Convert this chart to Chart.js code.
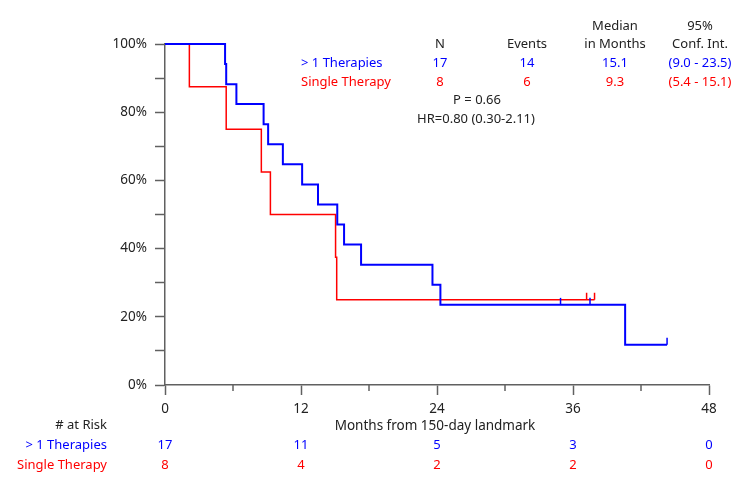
<!DOCTYPE html>
<html>
<head>
<meta charset="utf-8">
<script src="https://cdn.jsdelivr.net/npm/chart.js@4.4.1/dist/chart.umd.min.js"></script>
<style>
html, body { margin: 0; padding: 0; background: #fff; }
</style>
</head>
<body>
<canvas id="km" width="750" height="498"></canvas>
<script>
// survival curves (months, % surviving)
const multiTimes = [0, 5.3, 5.4, 6.3, 8.7, 9.1, 10.4, 12.1, 13.5, 15.2, 15.8, 17.3, 23.6, 24.3, 40.6, 44.3];
const multiSurv = [100, 94.1, 88.2, 82.4, 76.5, 70.6, 64.7, 58.8, 52.9, 47.1, 41.2, 35.3, 29.4, 23.5, 11.8, 11.8];
const multiCensorTimes = [34.9, 37.5, 44.3];
const multiCensorSurv = [23.5, 23.5, 11.8];

const singleTimes = [0, 2.15, 5.4, 8.5, 9.3, 15.05, 15.15, 37.9];
const singleSurv = [100, 87.5, 75, 62.5, 50, 37.5, 25, 25];
const singleCensorTimes = [37.2, 37.9];
const singleCensorSurv = [25, 25];

// numbers at risk
const riskMonths = [0, 12, 24, 36, 48];
const multiRisk = [17, 11, 5, 3, 0];
const singleRisk = [8, 4, 2, 2, 0];

// summary table
const groupNames = ['> 1 Therapies', 'Single Therapy'];
const groupN = [17, 8];
const groupEvents = [14, 6];
const groupMedian = ['15.1', '9.3'];
const groupCI = ['(9.0 - 23.5)', '(5.4 - 15.1)'];
const pText = 'P = 0.66';
const hrText = 'HR=0.80 (0.30-2.11)';

const BLUE = '#0000ff';
const RED = '#ff0000';
const AXIS = '#606060';
const TXT = '#222222';
const FONT = '"Noto Sans", sans-serif';

const toPoints = (xs, ys) => xs.map((t, i) => ({ x: t, y: ys[i] }));

const annotate = {
    id: 'annotate',
    afterDatasetsDraw(chart) {
        const { ctx, scales: { x, y } } = chart;
        ctx.save();
        // censor marks
        const marks = [
            [multiCensorTimes, multiCensorSurv, BLUE],
            [singleCensorTimes, singleCensorSurv, RED]
        ];
        marks.forEach(([ts, ss, col]) => {
            ctx.strokeStyle = col;
            ctx.lineWidth = 1.5;
            ts.forEach((t, i) => {
                const px = x.getPixelForValue(t);
                const py = y.getPixelForValue(ss[i]);
                ctx.beginPath();
                ctx.moveTo(px, py);
                ctx.lineTo(px, py - 7);
                ctx.stroke();
            });
        });
        // minor x ticks
        ctx.strokeStyle = AXIS;
        ctx.lineWidth = 1.5;
        for (let m = 6; m < 48; m += 12) {
            const px = x.getPixelForValue(m);
            ctx.beginPath();
            ctx.moveTo(px, y.bottom);
            ctx.lineTo(px, y.bottom + 6);
            ctx.stroke();
        }
        ctx.restore();
    },
    afterDraw(chart) {
        const { ctx, scales: { x } } = chart;
        ctx.save();
        ctx.font = '13px ' + FONT;
        ctx.textBaseline = 'middle';

        // axis title
        ctx.textAlign = 'center';
        ctx.fillStyle = TXT;
        ctx.font = '13.5px ' + FONT;
        ctx.fillText('Months from 150-day landmark', 435, 426);
        ctx.font = '13px ' + FONT;

        // at-risk table
        ctx.textAlign = 'right';
        ctx.fillText('# at Risk', 107, 425);
        ctx.fillStyle = BLUE;
        ctx.fillText(groupNames[0], 107, 445);
        ctx.fillStyle = RED;
        ctx.fillText(groupNames[1], 107, 465);
        ctx.textAlign = 'center';
        riskMonths.forEach((m, i) => {
            const px = x.getPixelForValue(m);
            ctx.fillStyle = BLUE;
            ctx.fillText(String(multiRisk[i]), px, 445);
            ctx.fillStyle = RED;
            ctx.fillText(String(singleRisk[i]), px, 465);
        });

        // summary table
        ctx.fillStyle = TXT;
        ctx.fillText('Median', 615, 26);
        ctx.fillText('95%', 700, 26);
        ctx.fillText('N', 440, 44);
        ctx.fillText('Events', 527, 44);
        ctx.fillText('in Months', 615, 44);
        ctx.fillText('Conf. Int.', 700, 44);
        const rowY = [63, 82];
        const cols = [BLUE, RED];
        rowY.forEach((ry, i) => {
            ctx.fillStyle = cols[i];
            ctx.textAlign = 'left';
            ctx.fillText(groupNames[i], 301, ry);
            ctx.textAlign = 'center';
            ctx.fillText(String(groupN[i]), 440, ry);
            ctx.fillText(String(groupEvents[i]), 527, ry);
            ctx.fillText(groupMedian[i], 615, ry);
            ctx.fillText(groupCI[i], 700, ry);
        });
        ctx.fillStyle = TXT;
        ctx.fillText(pText, 477, 100);
        ctx.fillText(hrText, 476, 119);
        ctx.restore();
    }
};

new Chart(document.getElementById('km'), {
    type: 'line',
    data: {
        datasets: [
            {
                label: groupNames[0],
                data: toPoints(multiTimes, multiSurv),
                borderColor: BLUE,
                borderWidth: 2,
                stepped: true,
                pointRadius: 0,
                fill: false,
                clip: false
            },
            {
                label: groupNames[1],
                data: toPoints(singleTimes, singleSurv),
                borderColor: RED,
                borderWidth: 1.5,
                stepped: true,
                pointRadius: 0,
                fill: false,
                clip: false
            }
        ]
    },
    options: {
        responsive: false,
        animation: false,
        layout: { padding: { left: 0, right: 41, top: 44, bottom: 0 } },
        plugins: { legend: { display: false }, tooltip: { enabled: false } },
        scales: {
            x: {
                type: 'linear',
                min: 0,
                max: 48,
                afterFit: s => { s.height = 113; },
                border: { color: AXIS, width: 1.5 },
                grid: {
                    drawOnChartArea: false,
                    tickLength: 10,
                    tickWidth: 1.5,
                    tickColor: c => (c.tick && c.tick.value % 12 === 0 ? AXIS : 'rgba(0,0,0,0)')
                },
                ticks: {
                    stepSize: 6,
                    padding: 6,
                    color: TXT,
                    font: { family: FONT, size: 13.5 },
                    maxRotation: 0,
                    callback: v => (v % 12 === 0 ? String(v) : '')
                }
            },
            y: {
                min: 0,
                max: 100,
                afterFit: s => { s.width = 165; },
                border: { color: AXIS, width: 1.5 },
                grid: {
                    drawOnChartArea: false,
                    tickLength: 10,
                    tickWidth: 1.5,
                    tickColor: AXIS
                },
                ticks: {
                    stepSize: 10,
                    padding: 8,
                    color: TXT,
                    font: { family: FONT, size: 13.5 },
                    callback: v => (v % 20 === 0 ? v + '%' : '')
                }
            }
        }
    },
    plugins: [annotate]
});
</script>
</body>
</html>
